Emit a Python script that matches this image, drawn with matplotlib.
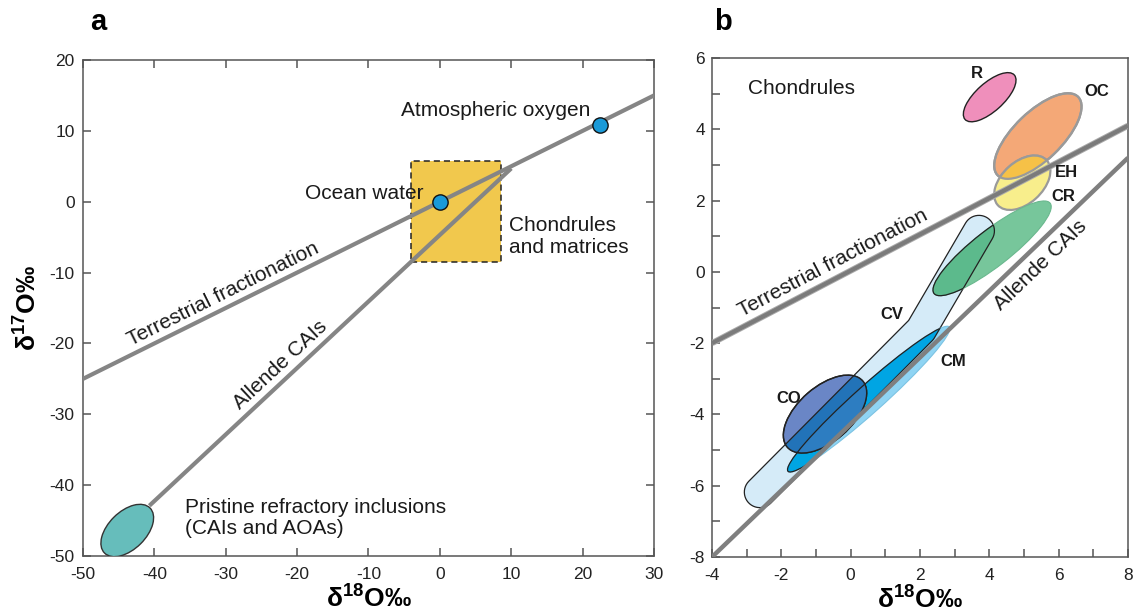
import numpy as np
import matplotlib
matplotlib.use('Agg')
import matplotlib.pyplot as plt
from matplotlib.patches import Ellipse, Rectangle, Polygon
from matplotlib.ticker import MultipleLocator

plt.rcParams['font.family'] = ['Liberation Sans', 'DejaVu Sans']
plt.rcParams['mathtext.fontset'] = 'custom'
plt.rcParams['mathtext.rm'] = 'Liberation Sans'
plt.rcParams['mathtext.bf'] = 'Liberation Sans:bold'
plt.rcParams['axes.unicode_minus'] = False

# ---- panel a data ----
terr_a_x = [-50, 30]
terr_a_y = [-25, 15]
allende_a_x = [-40.7, 10]
allende_a_y = [-42.9, 4.7]
box_x = [-4, 8.5]          # chondrules and matrices
box_y = [-8.5, 5.8]
points_x = [0, 22.5]       # ocean water, atmospheric oxygen
points_y = [0, 10.8]
pristine = (-43.8, -46.4, 9.0, 5.3, 45)   # cx, cy, width, height, angle

# ---- panel b data ----
terr_b_x = [-4, 8]
terr_b_y = [-2, 4.1]
allende_b_x = [-4, 8]
allende_b_y = [-8, 3.2]
cv_x = [-2.62, 2.03, 3.70]   # CV field centre line
cv_y = [-6.18, -1.63, 1.15]
groups = ['R', 'OC', 'EH', 'CR', 'CO', 'CM']
group_cx = [4.01, 5.40, 4.95, 4.08, -0.74, 0.52]
group_cy = [4.90, 3.81, 2.50, 0.66, -3.99, -3.57]
group_w = [1.89, 3.2, 1.89, 4.2, 2.86, 6.17]
group_h = [0.80, 1.37, 1.18, 1.03, 1.54, 0.78]
group_angle = [41, 43, 41, 37, 40, 41]
label_names = ['R', 'OC', 'EH', 'CR', 'CV', 'CM', 'CO']
label_x = [3.63, 7.10, 6.23, 6.13, 1.18, 2.96, -1.80]
label_y = [5.57, 5.05, 2.79, 2.11, -1.21, -2.52, -3.55]

W, H = 1135.0, 616.0
fig = plt.figure(figsize=(W / 100, H / 100), dpi=100)
ax1 = fig.add_axes([83 / W, 1 - 556 / H, 571 / W, 496 / H])
ax2 = fig.add_axes([712 / W, 1 - 557 / H, 416 / W, 499 / H])

for ax in (ax1, ax2):
    for s in ax.spines.values():
        s.set_color('#555555')
        s.set_linewidth(1.1)
    ax.tick_params(which='both', direction='in', length=6, width=1.1, color='#555555',
                   labelsize=12.5, labelcolor='#222222')
    ax.tick_params(axis='x', pad=8)
    ax.tick_params(axis='y', pad=6)

label_font = dict(fontsize=15, color='#1a1a1a')

# ================= panel a =================
ax1.set_xlim(-50, 30)
ax1.set_ylim(-50, 20)
ax1.set_xticks(range(-50, 31, 10))
ax1.set_yticks(range(-50, 21, 10))
ax1.tick_params(top=True, right=True)

ax1.add_patch(Rectangle((box_x[0], box_y[0]), box_x[1] - box_x[0], box_y[1] - box_y[0],
                        facecolor='#f1c84d', edgecolor='#222222', lw=1.1,
                        ls=(0, (4, 2.6)), zorder=2))
ax1.plot(terr_a_x, terr_a_y, color='#858585', lw=3, solid_capstyle='butt', zorder=3)
ax1.plot(allende_a_x, allende_a_y, color='#858585', lw=3, solid_capstyle='butt', zorder=3)
cx, cy, w, h, ang = pristine
ax1.add_patch(Ellipse((cx, cy), w, h, angle=ang, facecolor='#66bdbb',
                      edgecolor='#333333', lw=1, zorder=4))
ax1.plot(points_x, points_y, 'o', ms=11, mfc='#1b9ad8', mec='#111111', mew=1, zorder=5)

ax1.text(-30.4, -13.0, 'Terrestrial fractionation', rotation=26.4, rotation_mode='anchor',
         ha='center', va='center', **label_font)
ax1.text(-22.4, -23.0, 'Allende CAIs', rotation=43, rotation_mode='anchor',
         ha='center', va='center', **label_font)
ax1.text(-2.3, 1.1, 'Ocean water', ha='right', va='center', **label_font)
ax1.text(21.1, 12.9, 'Atmospheric oxygen', ha='right', va='center', **label_font)
ax1.text(9.7, -4.9, 'Chondrules\nand matrices', ha='left', va='center', linespacing=1.15,
         **label_font)
ax1.text(-35.7, -44.6, 'Pristine refractory inclusions\n(CAIs and AOAs)', ha='left',
         va='center', linespacing=1.15, **label_font)

ax1.text(0.5, -0.083, 'δ$^{\\mathbf{18}}$O‰', transform=ax1.transAxes, ha='center',
         va='center', fontsize=19, fontweight='bold')
ax1.text(-0.098, 0.5, 'δ$^{\\mathbf{17}}$O‰', transform=ax1.transAxes, ha='center',
         va='center', fontsize=19, fontweight='bold', rotation=90)

# ================= panel b =================
ax2.set_xlim(-4, 8)
ax2.set_ylim(-8, 6)
ax2.xaxis.set_major_locator(MultipleLocator(2))
ax2.xaxis.set_minor_locator(MultipleLocator(1))
ax2.yaxis.set_major_locator(MultipleLocator(2))
ax2.yaxis.set_minor_locator(MultipleLocator(1))
ax2.tick_params(axis='y', pad=5)


def stroke_outline(ax, xs, ys, r, n=24):
    # outline of a thick polyline with round caps, built in pixel space
    p = ax.transData.transform(np.column_stack([xs, ys]))
    d1 = (p[1] - p[0]) / np.linalg.norm(p[1] - p[0])
    d2 = (p[2] - p[1]) / np.linalg.norm(p[2] - p[1])
    t1 = np.arctan2(d1[1], d1[0])
    t2 = np.arctan2(d2[1], d2[0])

    def arc(c, a0, a1):
        t = np.linspace(a0, a1, n)
        return c + r * np.column_stack([np.cos(t), np.sin(t)])

    nl1 = np.array([-d1[1], d1[0]])
    nl2 = np.array([-d2[1], d2[0]])
    inner = p[1] + r * (nl1 + nl2) / (1 + nl1 @ nl2)
    out = np.vstack([arc(p[0], t1 + np.pi / 2, t1 + 3 * np.pi / 2),
                     arc(p[1], t1 - np.pi / 2, t2 - np.pi / 2),
                     arc(p[2], t2 - np.pi / 2, t2 + np.pi / 2),
                     inner])
    return ax.transData.inverted().transform(out)


cv_xy = stroke_outline(ax2, cv_x, cv_y, 15.5)


def ell(name, **kw):
    i = groups.index(name)
    return Ellipse((group_cx[i], group_cy[i]), group_w[i], group_h[i],
                   angle=group_angle[i], transform=ax2.transData, **kw)


def cv(**kw):
    return Polygon(cv_xy, closed=True, transform=ax2.transData, **kw)


def add(patch, clip=None):
    ax2.add_patch(patch)
    if clip is not None:
        patch.set_clip_path(clip)
    return patch


edge = '#222222'
# OC / EH
add(ell('OC', facecolor='#f4a877', edgecolor='#9a9a9a', lw=1.6, zorder=2))
add(ell('EH', facecolor='#f8ee8c', edgecolor='#9a9a9a', lw=1.6, zorder=2.1))
add(ell('EH', facecolor='#f6c147', edgecolor='#9a9a9a', lw=1.6, zorder=2.2), ell('OC'))
add(ell('OC', fill=False, edgecolor='#9a9a9a', lw=1.6, zorder=2.3))
# R
add(ell('R', facecolor='#ef8fbb', edgecolor=edge, lw=1.0, zorder=2))
# CV
add(cv(facecolor='#d5ebf8', edgecolor=edge, lw=0.9, zorder=2))
# CR
add(ell('CR', facecolor='#77c69b', edgecolor='#6ab88e', lw=0.8, zorder=2.5))
add(cv(facecolor='#5cba8c', edgecolor=edge, lw=0.9, zorder=2.6), ell('CR'))
add(ell('CR', fill=False, edgecolor=edge, lw=0.9, zorder=2.7), cv())
# CM
add(ell('CM', facecolor='#8fd4f3', edgecolor='#7cc3e3', lw=0.8, zorder=3))
add(cv(facecolor='#00a5e3', edgecolor=edge, lw=0.9, zorder=3.1), ell('CM'))
add(ell('CM', fill=False, edgecolor=edge, lw=0.9, zorder=3.2), cv())
# CO
add(ell('CO', facecolor='#6a86c6', edgecolor=edge, lw=1.0, zorder=3.5))
add(cv(facecolor='#2273b8', edgecolor=edge, lw=0.9, zorder=3.6), ell('CO'))
add(ell('CM', facecolor='#2d7dc1', edgecolor=edge, lw=0.9, zorder=3.7), ell('CO'))
add(ell('CO', fill=False, edgecolor=edge, lw=1.0, zorder=3.8))

# lines
ax2.plot(terr_b_x, terr_b_y, color='#ababab', lw=4.4, solid_capstyle='butt', zorder=5)
ax2.plot(terr_b_x, terr_b_y, color='#7b7b7b', lw=3.0, solid_capstyle='butt', zorder=5.1)
ax2.plot(allende_b_x, allende_b_y, color='#7f7f7f', lw=3.2, solid_capstyle='butt', zorder=5)

ax2.text(-2.95, 5.15, 'Chondrules', ha='left', va='center', **label_font)
ax2.text(-0.52, 0.24, 'Terrestrial fractionation', rotation=27.7, rotation_mode='anchor',
         ha='center', va='center', zorder=6, **label_font)
ax2.text(5.48, 0.19, 'Allende CAIs', rotation=44, rotation_mode='anchor',
         ha='center', va='center', zorder=6, **label_font)
for name, lx, ly in zip(label_names, label_x, label_y):
    ax2.text(lx, ly, name, ha='center', va='center', fontsize=12, fontweight='bold',
             color='#1a1a1a', zorder=6)

ax2.text(0.5, -0.083, 'δ$^{\\mathbf{18}}$O‰', transform=ax2.transAxes, ha='center',
         va='center', fontsize=19, fontweight='bold')

fig.text(90 / W, 1 - 30 / H, 'a', fontsize=21, fontweight='bold', ha='left', va='baseline')
fig.text(714 / W, 1 - 30 / H, 'b', fontsize=21, fontweight='bold', ha='left', va='baseline')

fig.savefig('out.png', dpi=100)
